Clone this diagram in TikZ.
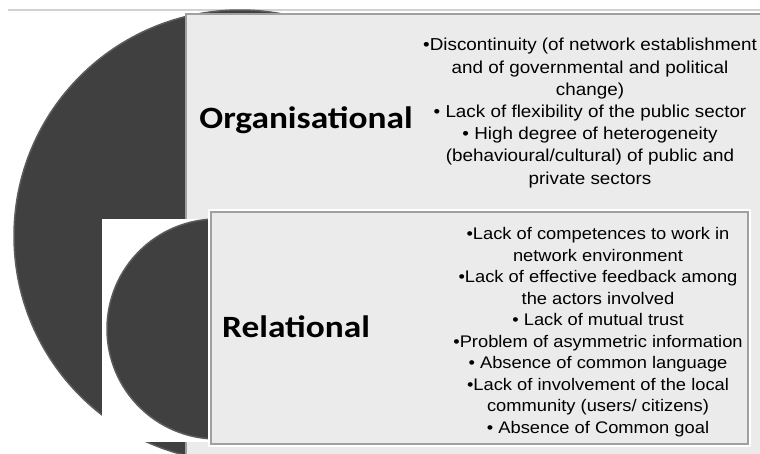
\documentclass[tikz,border=0pt]{standalone}
\usepackage{fontspec}
\setmainfont{Liberation Sans}[FakeStretch=1.09]
\newfontfamily\calibri{Carlito}[FakeStretch=1.14]
\usetikzlibrary{positioning}
\definecolor{discdark}{RGB}{64,64,64}
\definecolor{discrim}{RGB}{92,92,92}
\definecolor{panelfill}{RGB}{235,235,235}
\definecolor{panelline}{RGB}{160,160,160}
\definecolor{rulegray}{RGB}{210,210,210}

\tikzset{
  disc/.style={circle, fill=discdark, draw=discrim, line width=1.5pt, inner sep=0pt},
  panel/.style={rectangle, fill=panelfill, draw=panelline, line width=1.5pt,
    inner sep=0pt, anchor=north west},
  framed/.style={panel, preaction={draw=white, line width=6pt}},
  heading/.style={font=\calibri\bfseries\fontsize{31}{36}\selectfont},
  itemlist/.style={align=center, font=\fontsize{17.3}{22.2}\selectfont},
}

\begin{document}
\begin{tikzpicture}[x=1pt, y=-1pt]
  \useasboundingbox (0,0) rectangle (760,453);
  \draw[rulegray, line width=1.5pt] (8,10) -- (760,10);
  % organisational level
  \node[disc, minimum size=452pt] (bigdisc) at (240,236) {};
  \node[panel, minimum width=580pt, minimum height=450pt] (orgbox) at (185,13) {};
  \node[heading] (orgname) at (306,120) {Organisational};
  \node[itemlist] (orgitems) at (590,113)
       {•Discontinuity (of network establishment\\
        and of governmental and political\\
        change)\\
        • Lack of flexibility of the public sector\\
        • High degree of heterogeneity\\
        (behavioural/cultural) of public and\\
        private sectors};
  % relational level
  \fill[white] (102,219) rectangle (208,442);
  \node[disc, minimum size=220pt] (smalldisc) at (217,329) {};
  \node[framed, minimum width=537pt, minimum height=232pt] (relbox) at (210,211) {};
  \node[heading] (relname) at (296,327) {Relational};
  \node[itemlist, font=\fontsize{16.8}{21.5}\selectfont] (relitems) at (598,332)
       {•Lack of competences to work in\\
        network environment\\
        •Lack of effective feedback among\\
        the actors involved\\
        • Lack of mutual trust\\
        •Problem of asymmetric information\\
        • Absence of common language\\
        •Lack of involvement of the local\\
        community (users/ citizens)\\
        • Absence of Common goal};
\end{tikzpicture}
\end{document}
